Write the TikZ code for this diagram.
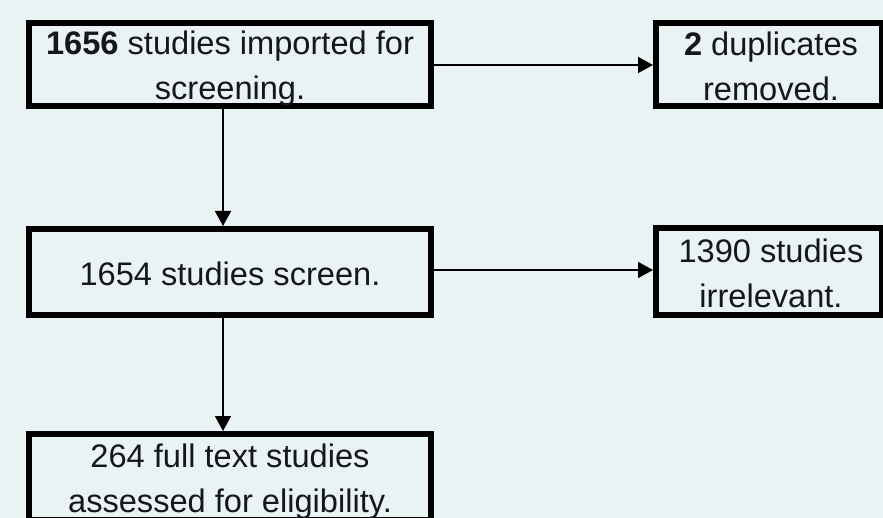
\documentclass[tikz,border=0pt]{standalone}
\usepackage{fontspec}
\setmainfont{Liberation Sans}
\usetikzlibrary{arrows.meta,calc}
\definecolor{bg}{RGB}{234,243,243}
\definecolor{ink}{RGB}{22,22,30}
\begin{document}
\begin{tikzpicture}[x=0.5pt,y=-0.5pt,
  box/.style={draw=black,line width=3pt,fill=bg,inner sep=0pt},
  txt/.style={align=center,inner sep=0pt,
    font=\fontsize{16.3pt}{22.5pt}\selectfont,text=ink},
  arr/.style={line width=0.8pt,-{Triangle[length=7.5pt,width=8pt]}}]
\useasboundingbox (0,0) rectangle (883,518);
\clip (0,0) rectangle (883,518);
\fill[bg] (0,0) rectangle (883,518);
\node[box,minimum width=201pt,minimum height=41.5pt] (b1) at (230,64.5) {};
\node[box,minimum width=113pt,minimum height=41.5pt] (b2) at (769,64.5) {};
\node[box,minimum width=201pt,minimum height=43pt] (b3) at (230,272) {};
\node[box,minimum width=113pt,minimum height=43.5pt] (b4) at (769,271.5) {};
\node[box,minimum width=201pt,minimum height=43pt] (b5) at (230,477) {};
\node[txt] (t1) at (230,69) {\textbf{1656} studies imported for\\screening.};
\node[txt] (t2) at (771,66) {\textbf{2} duplicates\\removed.};
\node[txt] (t3) at (230,274) {1654 studies screen.};
\node[txt] (t4) at (771,273) {1390 studies\\irrelevant.};
\node[txt] (t5) at (230,482) {264 full text studies\\assessed for eligibility.};
\coordinate (vx) at (223,0);
\coordinate (h1) at (0,65);
\coordinate (h2) at (0,270);
\draw[arr] (b1.south -| vx) -- (b3.north -| vx);
\draw[arr] (b3.south -| vx) -- (b5.north -| vx);
\draw[arr] (b1.east |- h1) -- (b2.west |- h1);
\draw[arr] (b3.east |- h2) -- (b4.west |- h2);
\end{tikzpicture}
\end{document}
